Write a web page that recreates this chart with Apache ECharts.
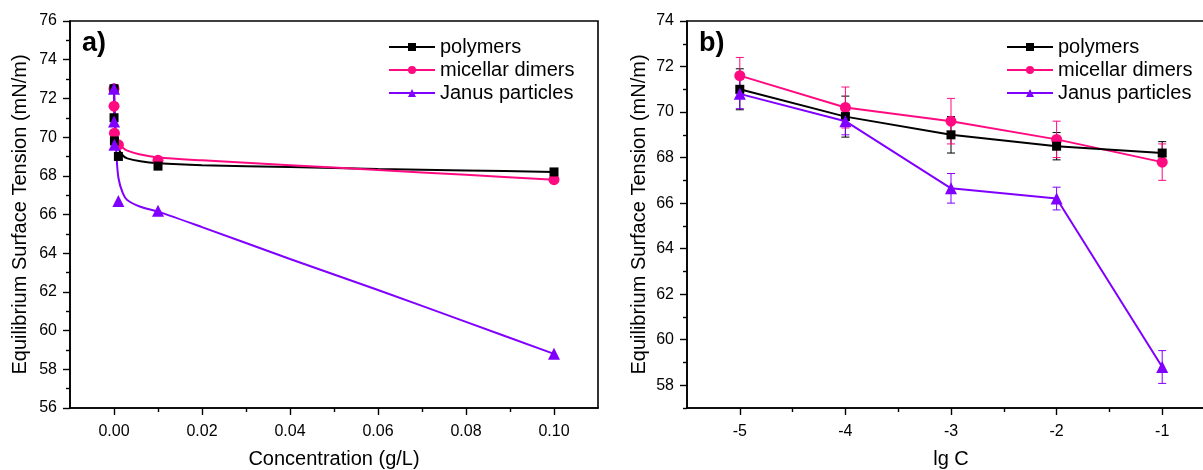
<!DOCTYPE html>
<html>
<head>
<meta charset="utf-8">
<script src="https://cdn.jsdelivr.net/npm/echarts@6/dist/echarts.min.js"></script>
<style>html,body{margin:0;padding:0;background:#fff}#c{width:1203px;height:470px}</style>
</head>
<body>
<div id="c"></div>
<script>
// ---------- data ----------
const seriesNames = ['polymers', 'micellar dimers', 'Janus particles'];
// panel a: measured points (concentration in g/L)
const concA = [0, 0.00001, 0.0001, 0.001, 0.01, 0.1];
const polymersA = [72.5, 71.0, 69.8, 69.0, 68.5, 68.2];
const micellarA = [72.5, 71.6, 70.2, 69.6, 68.8, 67.8];
const janusA = [72.5, 70.8, 69.6, 66.7, 66.2, 58.8];
// panel a: fitted curves
const fitC = [0, 0.0002, 0.0005, 0.001, 0.002, 0.003, 0.006, 0.01, 0.02, 0.04, 0.06, 0.08, 0.1];
const polymersFit = [72.5, 70.6, 69.8, 69.4, 69.05, 68.9, 68.75, 68.65, 68.55, 68.45, 68.35, 68.28, 68.2];
const micellarFit = [72.5, 71.0, 70.2, 69.75, 69.45, 69.3, 69.1, 68.95, 68.8, 68.55, 68.3, 68.05, 67.8];
const janusFit = [72.5, 70.6, 69.3, 67.9, 67.1, 66.75, 66.4, 66.15, 65.35, 63.7, 62.1, 60.45, 58.8];
// panel b: lg C
const lgC = [-5, -4, -3, -2, -1];
const polymersB = [71.0, 69.8, 69.0, 68.5, 68.2];
const micellarB = [71.6, 70.2, 69.6, 68.8, 67.8];
const janusB = [70.8, 69.6, 66.65, 66.2, 58.8];
const polymersErr = [0.9, 0.9, 0.8, 0.6, 0.5];
const micellarErr = [0.8, 0.9, 1.0, 0.8, 0.8];
const janusErr = [0.65, 0.6, 0.65, 0.5, 0.72];
// ticks
const xTicksA = [0, 0.02, 0.04, 0.06, 0.08, 0.10];
const xMinorA = [0.01, 0.03, 0.05, 0.07, 0.09];
const yTicksA = [56, 58, 60, 62, 64, 66, 68, 70, 72, 74, 76];
const yMinorA = [57, 59, 61, 63, 65, 67, 69, 71, 73, 75];
const xTicksB = [-5, -4, -3, -2, -1];
const xMinorB = [-4.5, -3.5, -2.5, -1.5];
const yTicksB = [58, 60, 62, 64, 66, 68, 70, 72, 74];
const yMinorB = [57, 59, 61, 63, 65, 67, 69, 71, 73];

// ---------- style ----------
const FONT = 'Liberation Sans, Arial, sans-serif';
const colors = ['#000000', '#ff0a80', '#8000ff'];
const symbols = ['rect', 'circle', 'triangle'];
const symSizes = [9, 11, 12];

const pair = (xs, ys) => xs.map((x, i) => [x, ys[i]]);

function mainAxis(gridIndex, min, max, ticks, fmt, name, nameGap, isY) {
  return {
    type: 'value', gridIndex, min, max, position: isY ? 'left' : 'bottom',
    name, nameLocation: 'middle', nameGap,
    nameTextStyle: {fontFamily: FONT, fontSize: 20, color: '#000'},
    axisLine: {show: true, onZero: false, lineStyle: {color: '#000', width: 1.6}},
    axisTick: {show: true, inside: false, length: 7, customValues: ticks, lineStyle: {color: '#000', width: 1.4}},
    axisLabel: {show: true, customValues: ticks, formatter: fmt, margin: isY ? 13 : 16,
      fontFamily: FONT, fontSize: 16, color: '#000'},
    splitLine: {show: false}
  };
}
function minorAxis(gridIndex, min, max, ticks, isY) {
  return {
    type: 'value', gridIndex, min, max, position: isY ? 'left' : 'bottom',
    axisLine: {show: false, onZero: false},
    axisTick: {show: true, inside: false, length: 4, customValues: ticks, lineStyle: {color: '#000', width: 1.4}},
    axisLabel: {show: false},
    splitLine: {show: false}
  };
}

const series = [];
// panel a fitted curves
[polymersFit, micellarFit, janusFit].forEach((ys, i) => {
  series.push({
    type: 'line', name: seriesNames[i], xAxisIndex: 0, yAxisIndex: 0,
    data: pair(fitC, ys), symbol: symbols[i], showSymbol: false, symbolSize: symSizes[i],
    smooth: 0.3, lineStyle: {color: colors[i], width: 2}, itemStyle: {color: colors[i]},
    z: 2 + i, silent: true
  });
});
// panel a markers (draw order: micellar, polymers, janus)
[[1, micellarA], [0, polymersA], [2, janusA]].forEach(([i, ys], k) => {
  series.push({
    type: 'scatter', name: seriesNames[i], xAxisIndex: 0, yAxisIndex: 0,
    data: pair(concA, ys), symbol: symbols[i], symbolSize: symSizes[i],
    itemStyle: {color: colors[i], opacity: 1}, z: 10 + k
  });
});
// panel b error bars
[[polymersB, polymersErr], [micellarB, micellarErr], [janusB, janusErr]].forEach(([ys, es], i) => {
  series.push({
    type: 'custom', name: seriesNames[i], xAxisIndex: 2, yAxisIndex: 2,
    data: lgC.map((x, j) => [x, ys[j], es[j]]),
    encode: {x: 0, y: 1},
    z: 1,
    renderItem: (params, api) => {
      const x = api.value(0), y = api.value(1), e = api.value(2);
      const t = api.coord([x, y + e]), b = api.coord([x, y - e]);
      const w = 4;
      const st = {stroke: colors[i], lineWidth: 1};
      return {type: 'group', children: [
        {type: 'line', shape: {x1: t[0], y1: t[1], x2: b[0], y2: b[1]}, style: st},
        {type: 'line', shape: {x1: t[0] - w, y1: t[1], x2: t[0] + w, y2: t[1]}, style: st},
        {type: 'line', shape: {x1: b[0] - w, y1: b[1], x2: b[0] + w, y2: b[1]}, style: st}
      ]};
    }
  });
});
// panel b lines with markers (order: micellar, polymers, janus)
[[1, micellarB], [0, polymersB], [2, janusB]].forEach(([i, ys], k) => {
  series.push({
    type: 'line', name: seriesNames[i], xAxisIndex: 2, yAxisIndex: 2,
    data: pair(lgC, ys), symbol: symbols[i], symbolSize: symSizes[i], showSymbol: true,
    lineStyle: {color: colors[i], width: 2}, itemStyle: {color: colors[i]}, z: 10 + k
  });
});

function legend(left) {
  return {
    show: true, orient: 'vertical', left, top: 32, data: seriesNames.slice(),
    itemWidth: 46, itemHeight: 10, itemGap: 3, selectedMode: false,
    textStyle: {fontFamily: FONT, fontSize: 20, color: '#000'}
  };
}

const gridBase = {top: 21, width: 528, height: 387, show: true, borderColor: '#000', borderWidth: 1.6,
  backgroundColor: 'transparent', containLabel: false, outerBoundsMode: 'none'};

const option = {
  animation: false,
  backgroundColor: '#fff',
  grid: [
    Object.assign({left: 70}, gridBase),
    Object.assign({left: 687}, gridBase)
  ],
  xAxis: [
    mainAxis(0, -0.01, 0.11, xTicksA, v => v.toFixed(2), 'Concentration (g/L)', 41, false),
    minorAxis(0, -0.01, 0.11, xMinorA, false),
    mainAxis(1, -5.5, -0.5, xTicksB, v => String(v), 'lg C', 41, false),
    minorAxis(1, -5.5, -0.5, xMinorB, false)
  ],
  yAxis: [
    mainAxis(0, 56, 76, yTicksA, v => String(v), 'Equilibrium Surface Tension (mN/m)', 40, true),
    minorAxis(0, 56, 76, yMinorA, true),
    mainAxis(1, 57, 74, yTicksB, v => String(v), 'Equilibrium Surface Tension (mN/m)', 38, true),
    minorAxis(1, 57, 74, yMinorB, true)
  ],
  legend: [legend(383), legend(1001)],
  graphic: [
    {type: 'text', left: 82, top: 30, style: {text: 'a)', font: 'bold 27px ' + FONT, fill: '#000'}},
    {type: 'text', left: 699, top: 30, style: {text: 'b)', font: 'bold 27px ' + FONT, fill: '#000'}}
  ],
  series
};
const chart = echarts.init(document.getElementById('c'), null, {renderer: 'canvas'});
chart.setOption(option);
</script>
</body>
</html>
